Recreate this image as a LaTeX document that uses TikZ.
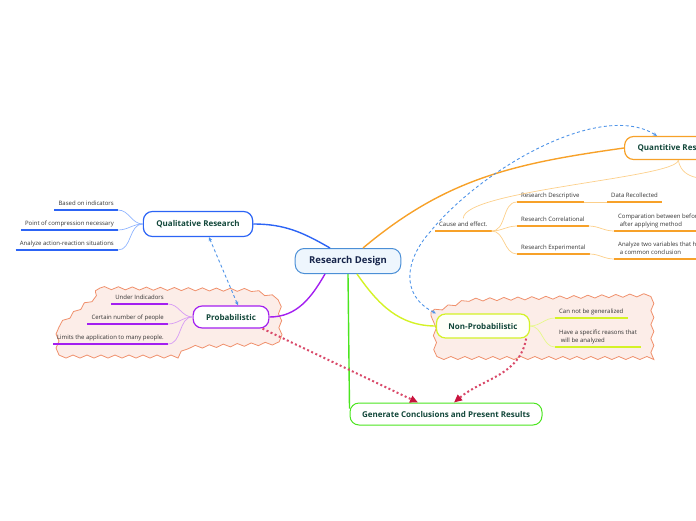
\documentclass[tikz,border=0pt]{standalone}
\usepackage{fontspec}
\setmainfont{Open Sans}
\usetikzlibrary{arrows.meta,decorations.pathmorphing}

\definecolor{rdline}{HTML}{4B8FD6}
\definecolor{rdfill}{HTML}{EEF6FD}
\definecolor{rdtext}{HTML}{16244A}
\definecolor{topictext}{HTML}{12473A}
\definecolor{leaftext}{HTML}{333333}
\definecolor{qualblue}{HTML}{2C64F5}
\definecolor{qualtwig}{HTML}{8FB4FF}
\definecolor{probpurple}{HTML}{A31FF0}
\definecolor{probtwig}{HTML}{D79CF5}
\definecolor{quantorange}{HTML}{F7A129}
\definecolor{quanttwig}{HTML}{FCCF8A}
\definecolor{npgreen}{HTML}{D4F226}
\definecolor{nptwig}{HTML}{E6F98A}
\definecolor{gengreen}{HTML}{4BE51F}
\definecolor{cloudfill}{HTML}{FCEDE8}
\definecolor{cloudline}{HTML}{F0906C}
\definecolor{linkblue}{HTML}{4F94E8}
\definecolor{relred}{HTML}{D94A6A}
\definecolor{arrowred}{HTML}{C9123D}

\begin{document}
\begin{tikzpicture}[x=1pt,y=-1pt,
  topic/.style={draw=#1, rounded corners=9pt, line width=1.2pt, fill=white,
    font=\fontsize{8}{9}\selectfont\bfseries, text=topictext, minimum height=23pt, inner xsep=13pt},
  leaf/.style={font=\fontsize{6}{7.6}\selectfont, text=leaftext, inner xsep=4pt, inner ysep=2.3pt,
    execute at begin node=\strut, execute at end node=\strut,
    append after command={(\tikzlastnode.south west) edge[draw=#1,line width=1.6pt] (\tikzlastnode.south east)}},
  branch/.style={draw=#1, line width=1.4pt},
  twig/.style={draw=#1, line width=0.7pt},
  cloud/.style={draw=cloudline, fill=cloudfill, line width=0.8pt,
    decorate, decoration={snake, segment length=14pt, amplitude=1.5pt}},
  link/.style={draw=linkblue, line width=0.9pt, dash pattern=on 3pt off 2.5pt,
    {Stealth[length=4pt,width=3.5pt]}-{Stealth[length=4pt,width=3.5pt]}},
  rel/.style={draw=relred, line width=2pt, dash pattern=on 2pt off 2.5pt,
    -{Triangle[length=8pt,width=7pt,color=arrowred]}}]
\useasboundingbox (0,0) rectangle (696,520);

% boundaries
\path[cloud] (100,288) -- (250,290) -- (276,298) -- (277,336) -- (185,340) -- (175,349)
  -- (52,349) -- (52,322) -- (78,301) -- cycle;
\path[cloud] (431,312) -- (462,302) -- (650,297) -- (650,354) -- (432,354) -- cycle;

% topics
\node[topic=rdline, fill=rdfill, text=rdtext, line width=1pt, font=\fontsize{9.5}{11}\selectfont\bfseries,
  minimum height=25pt, inner xsep=14pt] (rd) at (348,261) {Research Design};
\node[topic=qualblue, minimum height=25pt] (qual) at (198,224) {Qualitative Research};
\node[topic=probpurple, minimum height=22pt] (prob) at (231,317) {Probabilistic};
\node[topic=quantorange, anchor=west] (quant) at (624,148) {Quantitive Research};
\node[topic=npgreen, fill=white!85!npgreen!20, minimum height=24pt, inner xsep=12pt] (nonprob) at (483,326) {Non-Probabilistic};
\node[topic=gengreen, line width=1pt, minimum height=22pt, inner xsep=12pt] (gen) at (446,414) {Generate Conclusions and Present Results};

% leaves
\node[leaf=qualblue, anchor=south east] (qual1) at (118,210) {Based on indicators};
\node[leaf=qualblue, anchor=south east] (qual2) at (118,230) {Point of compression necessary};
\node[leaf=qualblue, anchor=south east] (qual3) at (118,250) {Analyze action-reaction situations};
\node[leaf=probpurple, anchor=south east] (prob1) at (168,304) {Under Indicadors};
\node[leaf=probpurple, anchor=south east] (prob2) at (168,324) {Certain number of people};
\node[leaf=probpurple, anchor=south east] (prob3) at (168,344) {Limits the application to many people.};
\node[leaf=quantorange, anchor=south west] (cause) at (435,231) {Cause and effect.};
\node[leaf=quantorange, anchor=south west] (desc) at (517,202) {Research Descriptive};
\node[leaf=quantorange, anchor=south west] (data) at (607,202) {Data Recollected};
\node[leaf=quantorange, anchor=south west] (corr) at (517,226) {Research Correlational};
\node[leaf=quantorange, anchor=south west, align=left] (comp) at (614,231) {Comparation between before and\\~after applying method};
\node[leaf=quantorange, anchor=south west] (expe) at (517,254) {Research Experimental};
\node[leaf=quantorange, anchor=south west, align=left] (anal) at (614,259) {Analyze two variables that have\\~a common conclusion};
\node[leaf=npgreen, anchor=south west] (np1) at (555,318) {Can not be generalized};
\node[leaf=npgreen, anchor=south west, align=left] (np2) at (555,347) {Have a specific reasons that\\~will be analyzed};
\coordinate (quantmore) at (740,178);

% main branches
\draw[branch=qualblue] ([xshift=-18pt]rd.north) to[out=150,in=0] (qual.east);
\draw[branch=probpurple] ([xshift=-23pt]rd.south) to[out=-120,in=0] (prob.east);
\draw[branch=quantorange] ([xshift=15pt]rd.north) to[out=40,in=188] (quant.west);
\draw[branch=npgreen] ([xshift=9pt]rd.south) to[out=-55,in=180] (nonprob.west);
\draw[branch=gengreen] (rd.south) -- ([yshift=-6pt]gen.north west);

% sub branches
\foreach \n in {qual1,qual2,qual3} \draw[twig=qualtwig] (\n.south east) to[out=0,in=180] (qual.west);
\foreach \n in {prob1,prob2,prob3} \draw[twig=probtwig] (\n.south east) to[out=0,in=180] (prob.west);
\foreach \n in {np1,np2} \draw[twig=nptwig] (nonprob.east) to[out=0,in=180] (\n.south west);
\draw[twig=quanttwig] (quant.south) .. controls (678,178) and (463,190) .. (cause.north);
\draw[twig=quanttwig] (quant.south) to[out=-80,in=180] (quantmore);
\foreach \n in {desc,corr,expe} \draw[twig=quanttwig] (cause.south east) to[out=0,in=180] (\n.south west);
\draw[twig=quanttwig] (desc.south east) -- (data.south west);
\draw[twig=quanttwig] (corr.south east) to[out=0,in=180] (comp.south west);
\draw[twig=quanttwig] (expe.south east) to[out=0,in=180] (anal.south west);

% relations
\draw[link] ([xshift=11pt]qual.south) -- ([xshift=7pt]prob.north);
\draw[link] (nonprob.north west) .. controls (400,295) and (405,260) .. (430,232)
  .. controls (480,170) and (600,100) .. ([xshift=33pt]quant.north west);
\draw[rel] ([xshift=-7pt]prob.south east) -- ([xshift=-28pt]gen.north);
\draw[rel] ([xshift=-4pt]nonprob.south east) to[out=-100,in=40] ([xshift=8pt]gen.north);
\end{tikzpicture}
\end{document}
